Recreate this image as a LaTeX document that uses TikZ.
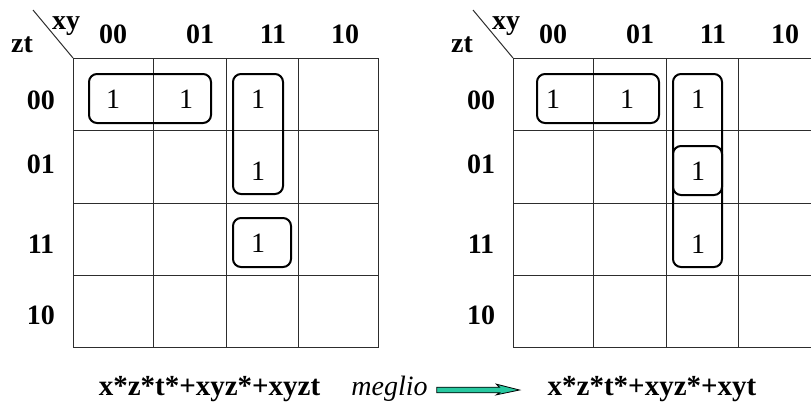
\documentclass[tikz,border=0pt]{standalone}
\usepackage{fontspec}
\setmainfont{Liberation Serif}
\usetikzlibrary{calc}
\definecolor{gridgray}{RGB}{45,45,45}
\definecolor{arrowteal}{RGB}{40,200,160}

\begin{document}
\begin{tikzpicture}[x=1pt,y=-1pt,
  gridline/.style={draw=gridgray, line width=1pt},
  loopbox/.style={draw=black, line width=2pt, rounded corners=8pt},
  hdr/.style={font=\fontsize{28}{30}\selectfont\bfseries, anchor=base, inner sep=0pt},
  onecell/.style={font=\fontsize{28}{30}\selectfont, anchor=base, inner sep=0pt},
  expr/.style={font=\fontsize{29}{31}\selectfont\bfseries, anchor=base, inner sep=0pt},
  note/.style={font=\fontsize{28}{30}\selectfont\itshape, anchor=base, inner sep=0pt}]

\clip (0,0) rectangle (811,402);

% two Karnaugh maps, side by side
\foreach \o/\p in {0/L,440/R} {
  \begin{scope}[xshift=\o]
    \draw[gridline] (73,58) rectangle (378,347);
    \foreach \cx in {153,226,298} \draw[gridline] (\cx,58) -- (\cx,347);
    \foreach \ry in {130,203,275} \draw[gridline] (73,\ry) -- (378,\ry);
    \draw[gridline] (73,58) -- (33,10);
    \node[hdr] (\p-xy) at (66,29) {xy};
    \node[hdr] (\p-zt) at (22,52) {zt};
    \node[hdr] (\p-c00) at (113,43) {00};
    \node[hdr] (\p-c01) at (200,43) {01};
    \node[hdr] (\p-c11) at (273,43) {11};
    \node[hdr] (\p-c10) at (345,43) {10};
    \node[hdr] (\p-r00) at (41,109) {00};
    \node[hdr] (\p-r01) at (41,173) {01};
    \node[hdr] (\p-r11) at (41,253) {11};
    \node[hdr] (\p-r10) at (41,324) {10};
  \end{scope}
}

% left map: ones and groupings
\node[onecell] (L-a) at (113,108) {1};
\node[onecell] (L-b) at (186,108) {1};
\node[onecell] (L-c) at (258,108) {1};
\node[onecell] (L-d) at (258,180) {1};
\node[onecell] (L-e) at (258,252) {1};
\draw[loopbox] (89,74) rectangle (211,123);
\draw[loopbox] (233,74) rectangle (283,194);
\draw[loopbox] (233,218) rectangle (291,267);

% right map: ones and groupings
\node[onecell] (R-a) at (553,108) {1};
\node[onecell] (R-b) at (627,108) {1};
\node[onecell] (R-c) at (698,108) {1};
\node[onecell] (R-d) at (698,180) {1};
\node[onecell] (R-e) at (698,253) {1};
\draw[loopbox] (537,74) rectangle (659,123);
\draw[loopbox] (673,74) rectangle (722,267);
\draw[loopbox] (673,146) rectangle (722,195);

% expressions below the maps
\node[expr] (exprA) at (209.5,395) {x*z*t*+xyz*+xyzt};
\node[note] (meglio) at (389.5,395) {meglio};
\node[expr] (exprB) at (652,395) {x*z*t*+xyz*+xyt};

% block arrow from "meglio" to the simplified expression
\coordinate (arrS) at ($(meglio.base east)+(9,-5)$);
\coordinate (arrE) at ($(exprB.base west)+(-28,-5)$);
\draw[black, line width=0.8pt, fill=arrowteal, line join=miter]
  ($(arrS)+(0,-2.8)$) -- ($(arrE)+(-20,-2.8)$) -- ($(arrE)+(-23,-5.8)$)
  -- (arrE) -- ($(arrE)+(-23,4.8)$) -- ($(arrE)+(-20,2.8)$)
  -- ($(arrS)+(0,2.8)$) -- cycle;
\end{tikzpicture}
\end{document}
